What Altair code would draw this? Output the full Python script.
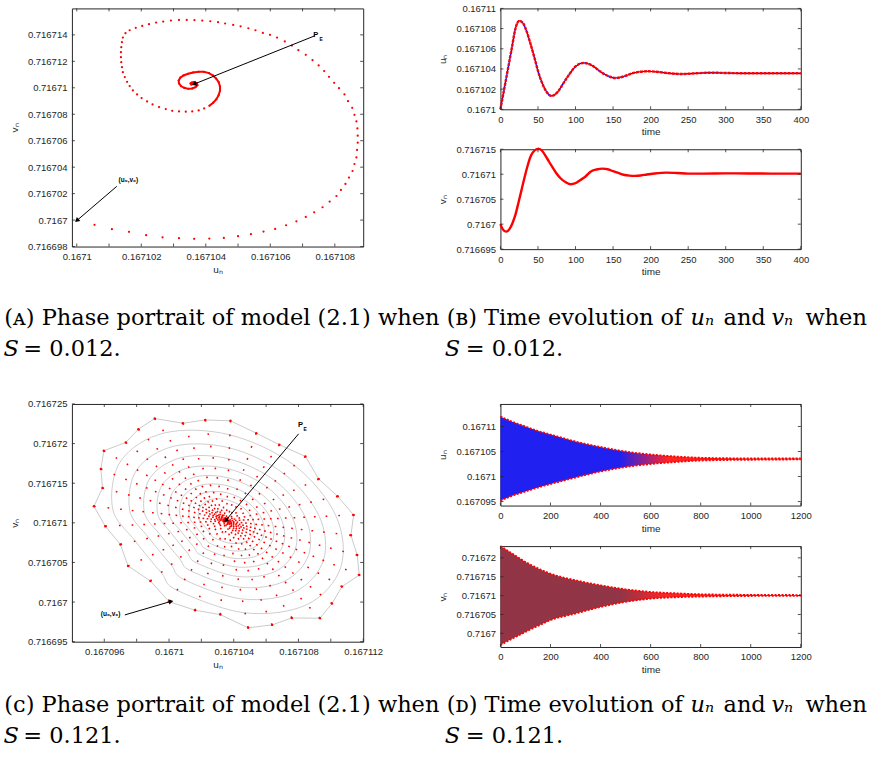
import altair as alt
import pandas as pd

AX_FONT = "Liberation Sans"
CAP_FONT = "DejaVu Serif"
AXC = "#262626"
U_BASE = 0.1671
V_BASE = 0.71671
MICRO = 1e-6

# ---------------- Panel A (S = 0.012): phase portrait, offsets in 1e-6 from (0.1671, 0.71671)
a_points = [
    (0.00, -10.0), (0.55, -10.36), (1.09, -10.69), (1.62, -10.89), (2.15, -11.14), (2.66, -11.30),
    (3.17, -11.37), (3.64, -11.42), (4.11, -11.40), (4.56, -11.35), (5.00, -11.22), (5.40, -11.07),
    (5.79, -10.87), (6.15, -10.67), (6.49, -10.39), (6.81, -10.09), (7.10, -9.76), (7.36, -9.41),
    (7.62, -9.03), (7.84, -8.60), (8.05, -8.18), (8.19, -7.72), (8.33, -7.27), (8.44, -6.79),
    (8.55, -6.29), (8.61, -5.76), (8.67, -5.26), (8.69, -4.70), (8.71, -4.15), (8.71, -3.62),
    (8.70, -3.07), (8.67, -2.54), (8.61, -2.04), (8.54, -1.51), (8.41, -1.01), (8.30, -0.50),
    (8.13, -0.03), (7.98, 0.38), (7.82, 0.83), (7.67, 1.26), (7.50, 1.69), (7.31, 2.09),
    (7.10, 2.49), (6.87, 2.84), (6.67, 3.19), (6.45, 3.50), (6.21, 3.80), (5.99, 4.00),
    (5.77, 4.15), (5.54, 4.35), (5.32, 4.50), (5.08, 4.65), (4.85, 4.75), (4.60, 4.86),
    (4.38, 4.96), (4.14, 5.03), (3.89, 5.08), (3.65, 5.11), (3.41, 5.13), (3.17, 5.13),
    (2.92, 5.08), (2.68, 5.01), (2.46, 4.93), (2.24, 4.81), (2.03, 4.68), (1.83, 4.53),
    (1.64, 4.35), (1.51, 4.13), (1.43, 3.80), (1.40, 3.45), (1.38, 3.07), (1.37, 2.69),
    (1.37, 2.31), (1.38, 1.94), (1.40, 1.56), (1.43, 1.18), (1.49, 0.81), (1.56, 0.45),
    (1.64, 0.13), (1.74, -0.20), (1.87, -0.50), (2.01, -0.78), (2.18, -1.03), (2.35, -1.26),
    (2.55, -1.46), (2.76, -1.61), (2.96, -1.74), (3.17, -1.79), (3.38, -1.81), (3.58, -1.79),
    (3.78, -1.71), (3.95, -1.56), (4.11, -1.36), (4.23, -1.13), (4.33, -0.86), (4.40, -0.55),
    (4.44, -0.23), (4.44, 0.10), (4.40, 0.43), (4.32, 0.70), (4.22, 0.93), (4.10, 1.11),
    (3.94, 1.21), (3.78, 1.21), (3.61, 1.16), (3.45, 1.06), (3.31, 0.93), (3.21, 0.76),
    (3.16, 0.55), (3.17, 0.33), (3.23, 0.13), (3.33, 0.00), (3.46, -0.08), (3.58, -0.05),
    (3.68, 0.05), (3.74, 0.20), (3.72, 0.35), (3.64, 0.43), (3.57, 0.40), (3.53, 0.33),
    (3.55, 0.25), (3.59, 0.28),
]
a_inner_start = 92
a_arrows = [(7.38, 3.93, 3.66, 0.30), (1.24, -7.45, 0.02, -10.0)]
a_heads = [(3.66, 0.30, 248), (0.02, -10.0, 229)]
a_label_p = (7.41, 4.00)
a_label_e = (7.58, 3.68)
a_label_u0 = (1.60, -6.99)

# ---------------- Panel B (S = 0.012): time series
bu_t = [0, 5, 10, 15, 20, 25, 30, 35, 40, 45, 50, 55, 60, 68, 76, 84, 92, 100, 111, 122, 132,
        142, 153, 164, 175, 186, 197, 210, 225, 241, 260, 280, 300, 330, 360, 400]
bu_d = [0.0, 2.0, 4.0, 6.0, 8.0, 8.77, 8.55, 7.7, 6.5, 5.2, 3.8, 2.7, 1.9, 1.33, 1.7, 2.6, 3.5,
        4.25, 4.6, 4.35, 3.8, 3.35, 3.1, 3.25, 3.55, 3.72, 3.77, 3.7, 3.57, 3.5, 3.57, 3.63, 3.6,
        3.57, 3.57, 3.57]
bv_t = [0, 3, 7.5, 12, 16, 20, 24, 28, 32, 36, 40, 45, 50.6, 56, 62, 68, 74, 80, 87, 93.6, 100,
        106, 113, 120, 128, 136, 144, 150, 157, 164, 172, 179, 187, 195, 205, 221, 235, 250, 270,
        300, 330, 360, 400]
bv_d = [-10.0, -11.0, -11.5, -11.0, -9.8, -8.1, -5.7, -3.2, -0.7, 1.6, 3.5, 4.7, 5.13, 4.6, 3.2,
        1.7, 0.3, -0.8, -1.6, -2.0, -1.8, -1.2, -0.5, 0.5, 0.95, 1.13, 0.95, 0.6, 0.25, -0.1,
        -0.28, -0.33, -0.25, -0.05, 0.15, 0.33, 0.25, 0.13, 0.12, 0.17, 0.15, 0.13, 0.13]

# ---------------- Panel C (S = 0.121): outermost iterates, estimated inner ring outlines, centre
c_hull = [
    (0.00, -9.94), (1.61, -11.03), (3.17, -11.58), (4.89, -13.25), (6.37, -12.88), (7.59, -12.00),
    (9.33, -12.04), (10.07, -10.19), (10.69, -8.05), (11.76, -6.59), (11.63, -4.07), (11.24, -1.56),
    (11.41, 1.00), (10.42, 3.35), (9.25, 5.53), (8.43, 8.38), (6.82, 9.85), (5.39, 11.32),
    (3.80, 12.87), (2.24, 12.99), (0.86, 12.57), (-0.88, 13.16), (-1.89, 11.82), (-2.67, 10.14),
    (-4.03, 9.09), (-4.21, 6.79), (-4.11, 4.40), (-4.64, 2.09), (-3.94, -0.42), (-3.00, -2.73),
    (-2.53, -5.45), (-1.15, -7.34),
]
c_rings = [
    [(0.50, -8.51), (4.70, -11.36), (8.52, -10.32), (10.61, -5.63), (10.31, 0.90), (7.75, 7.24),
     (3.76, 11.10), (-0.26, 11.35), (-2.97, 7.85), (-3.49, 1.83), (-2.08, -2.31), (-0.49, -6.28)],
    [(0.96, -7.19), (4.53, -9.61), (7.77, -8.72), (9.54, -4.74), (9.29, 0.80), (7.11, 6.18),
     (3.73, 9.46), (0.31, 9.67), (-1.99, 6.70), (-2.43, 1.59), (-1.23, -1.93), (0.12, -5.29)],
    [(1.35, -6.07), (4.38, -8.12), (7.13, -7.37), (8.64, -3.99), (8.42, 0.72), (6.57, 5.29),
     (3.70, 8.07), (0.80, 8.25), (-1.15, 5.73), (-1.53, 1.39), (-0.51, -1.60), (0.63, -4.46)],
    [(1.70, -5.05), (4.24, -6.77), (6.55, -6.14), (7.81, -3.31), (7.63, 0.64), (6.08, 4.48),
     (3.68, 6.81), (1.24, 6.96), (-0.40, 4.85), (-0.71, 1.21), (0.14, -1.30), (1.10, -3.70)],
    [(2.02, -4.13), (4.12, -5.56), (6.03, -5.03), (7.07, -2.69), (6.92, 0.57), (5.64, 3.75),
     (3.65, 5.68), (1.64, 5.80), (0.28, 4.05), (0.02, 1.04), (0.73, -1.03), (1.52, -3.01)],
    [(2.30, -3.32), (4.01, -4.48), (5.57, -4.05), (6.42, -2.14), (6.29, 0.51), (5.25, 3.10),
     (3.63, 4.67), (1.99, 4.77), (0.89, 3.34), (0.68, 0.89), (1.25, -0.79), (1.90, -2.41)],
    [(2.55, -2.60), (3.92, -3.53), (5.16, -3.19), (5.84, -1.67), (5.74, 0.46), (4.91, 2.53),
     (3.61, 3.78), (2.30, 3.86), (1.42, 2.73), (1.25, 0.77), (1.71, -0.58), (2.23, -1.88)],
    [(2.80, -1.89), (3.82, -2.59), (4.76, -2.33), (5.27, -1.19), (5.19, 0.41), (4.57, 1.96),
     (3.59, 2.90), (2.61, 2.96), (1.95, 2.11), (1.82, 0.64), (2.17, -0.38), (2.56, -1.34)],
]
c_center = (3.54, 0.25)
c_arrows = [(8.01, 11.23, 3.54, 0.38), (-2.73, -11.62, 0.08, -9.94)]
c_heads = [(3.54, 0.38, 219), (0.08, -9.94, 78)]
c_label_p = (8.12, 12.36)
c_label_e = (8.42, 11.80)
c_label_u0 = (-3.61, -11.5)

# ---------------- Panel D (S = 0.121): envelopes of the oscillation
d_t = [0, 50, 100, 150, 200, 300, 400, 500, 600, 700, 800, 1000, 1200]
du_hi = [12.0, 10.9, 10.0, 9.1, 8.4, 7.0, 5.9, 5.0, 4.4, 4.0, 3.75, 3.62, 3.6]
du_lo = [-4.8, -3.8, -3.0, -2.2, -1.5, -0.2, 1.0, 1.9, 2.5, 2.9, 3.2, 3.35, 3.42]
dv_hi = [13.1, 11.0, 8.9, 7.2, 5.8, 4.05, 2.73, 1.67, 0.97, 0.62, 0.35, 0.2, 0.15]
dv_lo = [-13.1, -11.3, -9.6, -8.0, -6.5, -4.75, -3.0, -1.67, -0.8, -0.44, -0.26, -0.1, -0.05]

# ---------------- axes
a_xdom = [0.16709985, 0.16710888]
a_ydom = [0.716698, 0.716716]
a_xlab = [0.1671, 0.167102, 0.167104, 0.167106, 0.167108]
a_xtick = [0.1671, 0.167101, 0.167102, 0.167103, 0.167104, 0.167105, 0.167106, 0.167107, 0.167108]
a_ytick = [0.716698, 0.7167, 0.716702, 0.716704, 0.716706, 0.716708, 0.71671, 0.716712, 0.716714]

b_tdom = [0, 400]
b_ttick = [0, 50, 100, 150, 200, 250, 300, 350, 400]
bu_dom = [0.1671, 0.16711]
bu_tick = [0.1671, 0.167102, 0.167104, 0.167106, 0.167108, 0.16711]
bv_dom = [0.716695, 0.716715]
bv_tick = [0.716695, 0.7167, 0.716705, 0.71671, 0.716715]

c_xdom = [0.167094, 0.167112]
c_ydom = [0.716695, 0.716725]
c_xlab = [0.167096, 0.1671, 0.167104, 0.167108, 0.167112]
c_xtick = [0.167096, 0.167098, 0.1671, 0.167102, 0.167104, 0.167106, 0.167108, 0.16711, 0.167112]
c_ytick = [0.716695, 0.7167, 0.716705, 0.71671, 0.716715, 0.71672, 0.716725]

d_tdom = [0, 1200]
d_ttick = [0, 200, 400, 600, 800, 1000, 1200]
du_dom = [0.1670942, 0.1671145]
du_tick = [0.167095, 0.1671, 0.167105, 0.16711]
dv_dom = [0.7166964, 0.7167231]
dv_tick = [0.7167, 0.716705, 0.71671, 0.716715, 0.71672]


def U(d):
    return round(U_BASE + d * MICRO, 12)


def V(d):
    return round(V_BASE + d * MICRO, 12)


def sc(dom):
    return alt.Scale(domain=dom, nice=False, zero=False)


def axis(values, title, lp, tp, orient, fmt):
    return alt.Axis(values=values, format=fmt, ticks=False, tickSize=0, domain=False, grid=False,
                    labelFont=AX_FONT, labelFontSize=9.5, labelColor=AXC, labelPadding=lp,
                    labelFlush=False, labelOverlap=False, orient=orient,
                    title=title, titleFont=AX_FONT, titleFontSize=10, titleFontWeight="normal",
                    titleColor=AXC, titlePadding=tp)


class P:
    """Shared x/y encodings of one panel."""

    def __init__(self, xdom, ydom, xlab, ylab, xtitle, ytitle, W, H, xfmt="~g"):
        self.xs, self.ys = sc(xdom), sc(ydom)
        self.xa = axis(xlab, xtitle, 5, 3, "bottom", xfmt)
        self.ya = axis(ylab, ytitle, 5, 8, "left", "~g")
        self.W, self.H = W, H

    def x(self, f):
        return alt.X(f + ":Q", scale=self.xs, axis=self.xa)

    def y(self, f):
        return alt.Y(f + ":Q", scale=self.ys, axis=self.ya)

    def ticks(self, xt, yt, L=3):
        dx = pd.DataFrame({"t": xt})
        dy = pd.DataFrame({"t": yt})
        rx = alt.Chart(dx).mark_rule(color=AXC, strokeWidth=0.8)
        ry = alt.Chart(dy).mark_rule(color=AXC, strokeWidth=0.8)
        W, H = self.W, self.H
        return [
            rx.encode(x=self.x("t"), y=alt.value(H), y2=alt.value(H - L)),
            rx.encode(x=self.x("t"), y=alt.value(0), y2=alt.value(L)),
            ry.encode(y=self.y("t"), x=alt.value(0), x2=alt.value(L)),
            ry.encode(y=self.y("t"), x=alt.value(W), x2=alt.value(W - L)),
        ]

    def arrows(self, arrows, heads, lp, le, lu0):
        df_ar = pd.DataFrame([{"u": U(a), "v": V(b), "u2": U(c), "v2": V(d)} for a, b, c, d in arrows])
        layers = [alt.Chart(df_ar).mark_rule(color="black", strokeWidth=1).encode(
            x=self.x("u"), y=self.y("v"), x2="u2:Q", y2="v2:Q")]
        for hu, hv, ang in heads:
            dfh = pd.DataFrame({"u": [U(hu)], "v": [V(hv)]})
            layers.append(alt.Chart(dfh).mark_point(shape="triangle", filled=True, color="black",
                                                     size=28, angle=ang, opacity=1).encode(
                x=self.x("u"), y=self.y("v")))
        for (pu, pv), txt, fs in [(lp, "P", 7.5), (le, "E", 5), (lu0, "(u₀,v₀)", 6.5)]:
            dft = pd.DataFrame({"u": [U(pu)], "v": [V(pv)], "s": [txt]})
            layers.append(alt.Chart(dft).mark_text(font=AX_FONT, fontSize=fs, fontWeight="bold",
                                                    color="black", align="center", baseline="middle").encode(
                x=self.x("u"), y=self.y("v"), text="s:N"))
        return layers


FRAME = alt.ViewBackground(stroke=AXC, strokeWidth=1, strokeOpacity=1)

# ---------------- Panel A
pA = P(a_xdom, a_ydom, a_xlab, a_ytick, "uₙ", "vₙ", 291.6, 238.4)
dfA = pd.DataFrame({"u": [U(p[0]) for p in a_points], "v": [V(p[1]) for p in a_points],
                    "k": list(range(len(a_points)))})
ptsA = alt.Chart(dfA).mark_circle(color="red", size=5, opacity=1).encode(x=pA.x("u"), y=pA.y("v"))
lineA = alt.Chart(dfA).transform_filter(alt.datum.k >= a_inner_start).mark_line(
    color="red", strokeWidth=2).encode(x=pA.x("u"), y=pA.y("v"), order="k:Q")
panelA = alt.layer(ptsA, lineA, *pA.ticks(a_xtick, a_ytick),
                   *pA.arrows(a_arrows, a_heads, a_label_p, a_label_e, a_label_u0)
                   ).properties(width=pA.W, height=pA.H, view=FRAME)

# ---------------- Panel B
BW = 300.7
pBu = P(b_tdom, bu_dom, b_ttick, bu_tick, "time", "uₙ", BW, 101, "d")
pBv = P(b_tdom, bv_dom, b_ttick, bv_tick, "time", "vₙ", BW, 100, "d")
dfBu = pd.DataFrame({"t": bu_t, "u": [U(d) for d in bu_d]})
dfBv = pd.DataFrame({"t": bv_t, "v": [V(d) for d in bv_d]})
bu_blue = alt.Chart(dfBu).mark_line(color="blue", strokeWidth=1.2, interpolate="monotone").encode(
    x=pBu.x("t"), y=pBu.y("u"))
bu_red = alt.Chart(dfBu).mark_line(color="red", strokeWidth=2.4, interpolate="monotone",
                                   strokeDash=[3, 1]).encode(x=pBu.x("t"), y=pBu.y("u"))
panelBu = alt.layer(bu_blue, bu_red, *pBu.ticks(b_ttick, bu_tick)).properties(
    width=BW, height=pBu.H, view=FRAME)
bv_blue = alt.Chart(dfBv).mark_line(color="blue", strokeWidth=1.0, interpolate="monotone").encode(
    x=pBv.x("t"), y=pBv.y("v"))
bv_red = alt.Chart(dfBv).mark_line(color="red", strokeWidth=2.4, interpolate="monotone").encode(
    x=pBv.x("t"), y=pBv.y("v"))
panelBv = alt.layer(bv_blue, bv_red, *pBv.ticks(b_ttick, bv_tick)).properties(
    width=BW, height=pBv.H, view=FRAME)
colB = alt.vconcat(panelBu, panelBv, spacing=40, bounds="flush")

# ---------------- Panel C
pC = P(c_xdom, c_ydom, c_xlab, c_ytick, "uₙ", "vₙ", 291.6, 238)
hull_closed = c_hull + [c_hull[0]]
dfC = pd.DataFrame({"u": [U(p[0]) for p in hull_closed], "v": [V(p[1]) for p in hull_closed],
                    "k": list(range(len(hull_closed)))})
ring_rows = []
for ri, ring in enumerate(c_rings):
    for k, (a, b) in enumerate(ring):
        ring_rows.append({"ring": ri, "k": k, "u": U(a), "v": V(b)})
dfRings = pd.DataFrame(ring_rows)
dfArms = pd.DataFrame({"u": [U(p[0]) for p in c_hull], "v": [V(p[1]) for p in c_hull],
                       "u2": [U(c_center[0])] * len(c_hull), "v2": [V(c_center[1])] * len(c_hull)})
hullC = alt.Chart(dfC).mark_line(color="#c4c4c4", strokeWidth=0.9).encode(
    x=pC.x("u"), y=pC.y("v"), order="k:Q")
ringsC = alt.Chart(dfRings).mark_line(color="#c8c8c8", strokeWidth=0.9,
                                      interpolate="cardinal-closed").encode(
    x=pC.x("u"), y=pC.y("v"), detail="ring:N", order="k:Q")
ARM_DASH = [1.7, 12, 1.7, 11, 1.7, 10, 1.7, 9, 1.7, 8, 1.7, 7, 1.7, 6.2, 1.7, 5.4, 1.7, 4.8,
            1.7, 4.2, 1.7, 3.7, 1.7, 3.2, 1.7, 2.8, 1.7, 2.4, 1.7, 2.1, 1.7, 1.8, 1.7, 1.5,
            1.7, 1.3, 1.7, 1.1, 1.7, 1.0, 1.7, 0.9, 1.7, 0.8, 1.7, 0.7, 1.7, 0.6, 1.7, 0.6,
            1.7, 0.5, 1.7, 0.5, 1.7, 0.5, 1.7, 0.5, 1.7, 0.5, 1.7, 0.5, 1.7, 0.5, 1.7, 0.5,
            1.7, 0.5, 1.7, 0.5, 1.7, 0.5, 1.7, 0.5]
armsC = alt.Chart(dfArms).mark_rule(color="red", strokeWidth=1.5, strokeDash=ARM_DASH).encode(
    x=pC.x("u"), y=pC.y("v"), x2="u2:Q", y2="v2:Q")
ptsC = alt.Chart(dfC).mark_circle(color="red", size=6, opacity=1).encode(x=pC.x("u"), y=pC.y("v"))
panelC = alt.layer(hullC, ringsC, armsC, ptsC, *pC.ticks(c_xtick, c_ytick),
                   *pC.arrows(c_arrows, c_heads, c_label_p, c_label_e, c_label_u0)
                   ).properties(width=pC.W, height=pC.H, view=FRAME)

# ---------------- Panel D
dfDu = pd.DataFrame({"t": d_t, "hi": [U(d) for d in du_hi], "lo": [U(d) for d in du_lo]})
dfDv = pd.DataFrame({"t": d_t, "hi": [V(d) for d in dv_hi], "lo": [V(d) for d in dv_lo]})


def grad(c1):
    return alt.Gradient(gradient="linear", x1=0, x2=1, y1=0, y2=0, stops=[
        alt.GradientStop(color=c1, offset=0), alt.GradientStop(color=c1, offset=0.40),
        alt.GradientStop(color="#ff1a1a", offset=0.56), alt.GradientStop(color="#ff0000", offset=1)])


def d_panel(df, p, ticks, c1):
    area = alt.Chart(df).mark_area(color=grad(c1), opacity=0.95, interpolate="monotone").encode(
        x=p.x("t"), y=p.y("hi"), y2="lo:Q")
    hi = alt.Chart(df).mark_line(color="red", strokeWidth=1.8, strokeDash=[2, 1.5],
                                 interpolate="monotone").encode(x=p.x("t"), y=p.y("hi"))
    lo = alt.Chart(df).mark_line(color="red", strokeWidth=1.8, strokeDash=[2, 1.5],
                                 interpolate="monotone").encode(x=p.x("t"), y=p.y("lo"))
    return alt.layer(area, hi, lo, *p.ticks(d_ttick, ticks)).properties(
        width=p.W, height=p.H, view=FRAME)


pDu = P(d_tdom, du_dom, d_ttick, du_tick, "time", "uₙ", BW, 101.7, "d")
pDv = P(d_tdom, dv_dom, d_ttick, dv_tick, "time", "vₙ", BW, 101, "d")
panelDu = d_panel(dfDu, pDu, du_tick, "#1414f0")
panelDv = d_panel(dfDv, pDv, dv_tick, "#8c2a3c")
colD = alt.vconcat(panelDu, panelDv, spacing=40.3, bounds="flush")

# ---------------- captions (nested rows count as zero height in the flush layout,
# so each caption view starts at the top of the row above it)
LEFT = 71.7
CAP_FS = 22.5


def cap_text(txt, x, y, style="normal"):
    return alt.Chart(pd.DataFrame({"s": [txt]})).mark_text(
        font=CAP_FONT, fontSize=CAP_FS, align="left", baseline="alphabetic", color="black",
        fontStyle=style).encode(x=alt.value(x - LEFT), y=alt.value(y), text="s:N")


def caption(h, top, b1, b2, first, second, s_text, anchor=False):
    b1 -= top
    b2 -= top
    layers = [
        cap_text(first, 4, b1),
        cap_text("S", 3.3, b2, "italic"), cap_text("= " + s_text, 23, b2),
        cap_text(second, 447, b1),
        cap_text("uₙ", 691, b1, "italic"), cap_text("and", 724, b1),
        cap_text("vₙ", 772, b1, "italic"), cap_text("when", 806, b1),
        cap_text("S", 445, b2, "italic"), cap_text("= " + s_text, 466, b2),
    ]
    if anchor:
        layers.append(alt.Chart(pd.DataFrame({"a": [0]})).mark_rule(color="white", strokeWidth=1).encode(
            x=alt.value(-LEFT + 0.5), x2=alt.value(-LEFT + 0.5), y=alt.value(-top + 0.5),
            y2=alt.value(-top + 0.5)))
    return alt.layer(*layers).properties(width=884 - LEFT, height=h)


cap1 = caption(395.7, 7.3, 324.3, 355.0, "(ᴀ) Phase portrait of model (2.1) when", "(ʙ)  Time evolution of",
               "0.012.", anchor=True)
cap2 = caption(120, 403.0, 711.3, 742.0, "(ᴄ) Phase portrait of model (2.1) when", "(ᴅ) Time evolution of",
               "0.121.")

row1 = alt.hconcat(panelA, colB, spacing=137, bounds="flush")
row2 = alt.hconcat(panelC, colD, spacing=137, bounds="flush")

chart = alt.vconcat(row1, cap1, row2, cap2, spacing=0, bounds="flush").properties(
    padding=0, background="white").configure_view(strokeOpacity=0)

chart.save("out.html", embed_options={"renderer": "svg", "actions": False})
